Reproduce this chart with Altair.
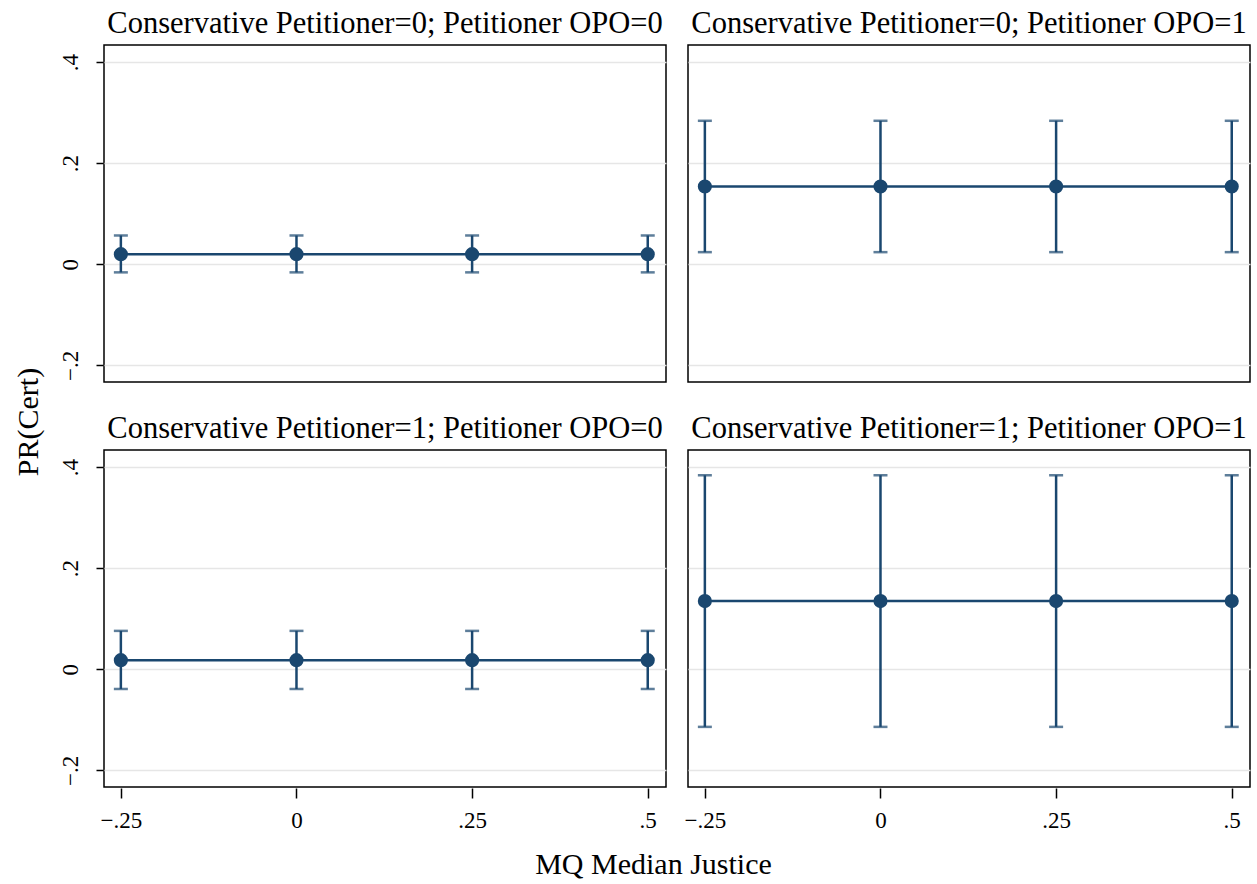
import altair as alt
import pandas as pd

panels = [
    "Conservative Petitioner=0; Petitioner OPO=0",
    "Conservative Petitioner=0; Petitioner OPO=1",
    "Conservative Petitioner=1; Petitioner OPO=0",
    "Conservative Petitioner=1; Petitioner OPO=1",
]
mq_median = [-0.25, 0.0, 0.25, 0.5]
estimate = [
    [0.020, 0.020, 0.020, 0.020],
    [0.154, 0.154, 0.154, 0.154],
    [0.018, 0.018, 0.018, 0.018],
    [0.135, 0.135, 0.135, 0.135],
]
ci_low = [
    [-0.016, -0.016, -0.016, -0.016],
    [0.024, 0.024, 0.024, 0.024],
    [-0.039, -0.039, -0.039, -0.039],
    [-0.114, -0.114, -0.114, -0.114],
]
ci_high = [
    [0.057, 0.057, 0.057, 0.057],
    [0.284, 0.284, 0.284, 0.284],
    [0.076, 0.076, 0.076, 0.076],
    [0.384, 0.384, 0.384, 0.384],
]
x_ticks = [-0.25, 0.0, 0.25, 0.5]
y_ticks = [-0.2, 0.0, 0.2, 0.4]

rows = []
for p, name in enumerate(panels):
    for i, xv in enumerate(mq_median):
        rows.append({"panel": name, "mq": xv, "est": estimate[p][i],
                     "lo": ci_low[p][i], "hi": ci_high[p][i]})
df = pd.DataFrame(rows)

FONT = "'Liberation Serif', 'Times New Roman', serif"
NAVY = "#1a476f"

fmt = "datum.value == 0 ? '0' : replace(format(datum.value, '~g'), '0.', '.')"

xenc = alt.X("mq:Q",
             scale=alt.Scale(domain=[-0.274, 0.526], nice=False, zero=False),
             axis=alt.Axis(values=x_ticks, title="", grid=False, domain=False,
                           tickSize=10, tickWidth=1.5, tickColor="black",
                           labelFontSize=23, labelFont=FONT, labelColor="black",
                           labelPadding=11, labelExpr=fmt))
yscale = alt.Scale(domain=[-0.233, 0.434], nice=False, zero=False)
yaxis = alt.Axis(values=y_ticks, title="", grid=True, gridColor="#e6e6e6",
                 gridWidth=1.5, domain=False, tickSize=7, tickWidth=1.5,
                 tickColor="black", labelFontSize=23, labelFont=FONT,
                 labelColor="black", labelAngle=270, labelPadding=14,
                 labelExpr=fmt)

base = alt.Chart(df)
line = base.mark_line(color=NAVY, strokeWidth=2.5).encode(
    x=xenc, y=alt.Y("est:Q", scale=yscale, axis=yaxis))
rule = base.mark_rule(color=NAVY, strokeWidth=2.5).encode(
    x="mq:Q", y="lo:Q", y2="hi:Q")
cap_lo = base.mark_tick(color=NAVY, orient="horizontal", size=14,
                        thickness=2.5).encode(x="mq:Q", y="lo:Q")
cap_hi = base.mark_tick(color=NAVY, orient="horizontal", size=14,
                        thickness=2.5).encode(x="mq:Q", y="hi:Q")
pts = base.mark_circle(color=NAVY, opacity=1, size=200).encode(
    x="mq:Q", y="est:Q")

layer = alt.layer(line, rule, cap_lo, cap_hi, pts).properties(
    width=562, height=337)

facet = layer.facet(
    facet=alt.Facet("panel:N", sort=panels, title=None,
                    header=alt.Header(labelFontSize=30.5, labelFont=FONT,
                                      labelColor="black", labelPadding=6)),
    columns=2,
    spacing={"column": 20, "row": 29},
).resolve_scale(x="shared", y="shared")

ytitle = alt.Chart(pd.DataFrame({"t": ["PR(Cert)"]})).mark_text(
    angle=270, font=FONT, fontSize=30, color="black").encode(
    text="t:N", x=alt.value(28), y=alt.value(377)).properties(
    width=57, height=700, view=alt.ViewConfig(stroke="transparent"))

chart = alt.hconcat(ytitle, facet, spacing=0).properties(
    title=alt.TitleParams("MQ Median Justice", orient="bottom", fontSize=30,
                          font=FONT, fontWeight="normal", color="black",
                          anchor="middle", offset=18, dx=28),
    padding={"left": 0, "top": 7, "right": 5, "bottom": 5},
    background="white",
).configure(font=FONT).configure_view(
    stroke="black", strokeWidth=1.5
).configure_header(
    labelFont=FONT, titleFont=FONT
).configure_axis(
    labelFont=FONT, titleFont=FONT
).configure_title(font=FONT)

chart.save("out.html", embed_options={"renderer": "svg", "actions": False})
